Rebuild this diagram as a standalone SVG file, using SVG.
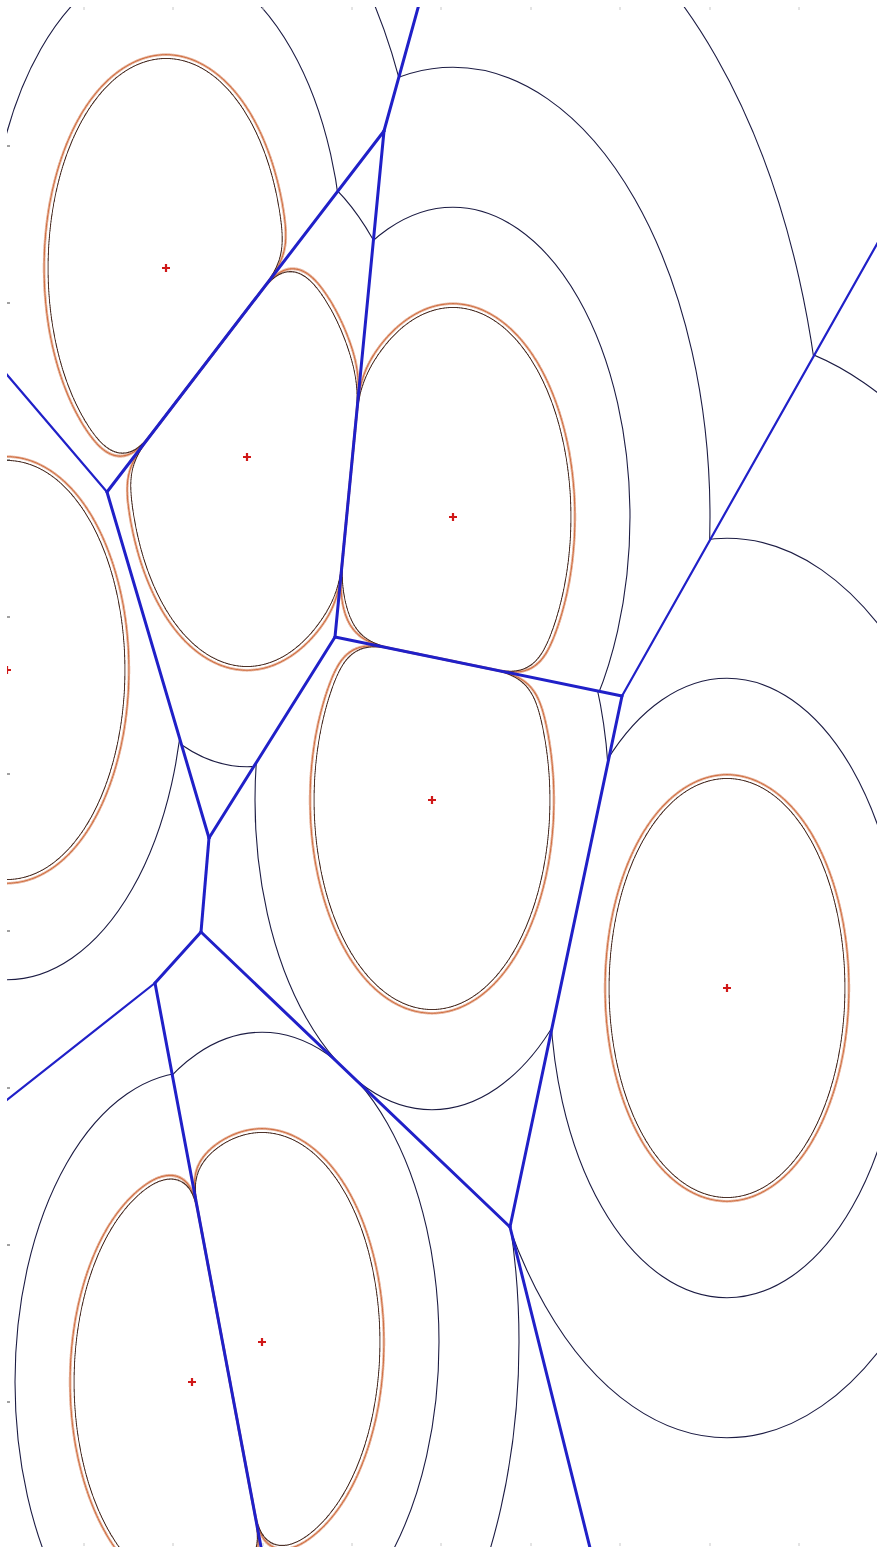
<svg xmlns="http://www.w3.org/2000/svg" width="877" height="1547" viewBox="0 0 877 1547">
<style>
.lv{fill:none;stroke:#1c1c44;stroke-width:1.1}
.fo{fill:#000;stroke:none}
.e{stroke:#2020c8;stroke-width:3;stroke-linecap:round;fill:none}
.et{stroke-width:2.2}
.x{stroke:#d01818;stroke-width:2.2;fill:none}
.tk{stroke:#444;stroke-width:1.2}
.tf{stroke:#c8c8c8;stroke-width:1}
</style>
<defs>
<filter id="ringO" x="-30%" y="-30%" width="160%" height="160%" color-interpolation-filters="sRGB">
<feGaussianBlur in="SourceAlpha" stdDeviation="18"/>
<feComponentTransfer result="r"><feFuncA type="table" tableValues="0 0 0 0 0 0 0 0 0 0 0 0 0 1 0 0 0 0 0 0 0 0 0 0 0 0 0"/></feComponentTransfer>
<feFlood flood-color="#cf6a3c"/>
<feComposite in2="r" operator="in"/>
</filter>
<filter id="ringD" x="-30%" y="-30%" width="160%" height="160%" color-interpolation-filters="sRGB">
<feGaussianBlur in="SourceAlpha" stdDeviation="18"/>
<feComponentTransfer result="r"><feFuncA type="table" tableValues="0 0 0 0 0 0 0 0 0 0 0 0 0 0 0 0 0 0 0 0 0 0 0 0 1 0 0 0 0 0 0 0 0 0 0 0 0 0 0 0 0 0 0 0 0 0 0 0 0"/></feComponentTransfer>
<feFlood flood-color="#3a1c12"/>
<feComposite in2="r" operator="in"/>
</filter>
<clipPath id="view"><rect x="7" y="7" width="870" height="1540"/></clipPath>
<clipPath id="cA"><polygon points="-50,-50 434,-50 384,131 107,492 -50,308"/></clipPath>
<clipPath id="cB"><polygon points="384,131 335,637 209,838 107,492"/></clipPath>
<clipPath id="cC"><polygon points="434,-50 930,-50 930,150 622,696 335,637 384,131"/></clipPath>
<clipPath id="cD"><polygon points="335,637 622,696 510,1227 201,932 209,838"/></clipPath>
<clipPath id="cF"><polygon points="930,150 930,1600 603,1600 510,1227 622,696"/></clipPath>
<clipPath id="cG"><polygon points="-50,308 107,492 209,838 201,932 155,983 -50,1145"/></clipPath>
<clipPath id="cH"><polygon points="201,932 510,1227 603,1600 271,1600 155,983"/></clipPath>
<clipPath id="cI"><polygon points="-50,1145 155,983 271,1600 -50,1600"/></clipPath>
</defs>
<rect width="877" height="1547" fill="#ffffff"/>
<g clip-path="url(#view)">
<g id="site-A">
<g clip-path="url(#cA)">
<ellipse class="lv" cx="166" cy="268" rx="177" ry="309.75"/>
<ellipse class="lv" cx="166" cy="268" rx="257" ry="449.75"/>
<ellipse class="lv" cx="166" cy="268" rx="372" ry="651"/>
</g>
<g filter="url(#ringO)"><ellipse class="fo" clip-path="url(#cA)" cx="166" cy="268" rx="122.4" ry="215.5"/></g>
<g filter="url(#ringD)"><ellipse class="fo" clip-path="url(#cA)" cx="166" cy="268" rx="118.4" ry="211.8"/></g>
<path class="x" d="M162 268H170M166 264V272"/>
</g>
<g id="site-B">
<g clip-path="url(#cB)">
<ellipse class="lv" cx="247" cy="457" rx="177" ry="309.75"/>
<ellipse class="lv" cx="247" cy="457" rx="257" ry="449.75"/>
</g>
<g filter="url(#ringO)"><ellipse class="fo" clip-path="url(#cB)" cx="247" cy="457" rx="122.4" ry="215.5"/></g>
<g filter="url(#ringD)"><ellipse class="fo" clip-path="url(#cB)" cx="247" cy="457" rx="118.4" ry="211.8"/></g>
<path class="x" d="M243 457H251M247 453V461"/>
</g>
<g id="site-C">
<g clip-path="url(#cC)">
<ellipse class="lv" cx="453" cy="517" rx="177" ry="309.75"/>
<ellipse class="lv" cx="453" cy="517" rx="257" ry="449.75"/>
<ellipse class="lv" cx="453" cy="517" rx="372" ry="651"/>
</g>
<g filter="url(#ringO)"><ellipse class="fo" clip-path="url(#cC)" cx="453" cy="517" rx="122.4" ry="215.5"/></g>
<g filter="url(#ringD)"><ellipse class="fo" clip-path="url(#cC)" cx="453" cy="517" rx="118.4" ry="211.8"/></g>
<path class="x" d="M449 517H457M453 513V521"/>
</g>
<g id="site-D">
<g clip-path="url(#cD)">
<ellipse class="lv" cx="432" cy="800" rx="177" ry="309.75"/>
<ellipse class="lv" cx="432" cy="800" rx="257" ry="449.75"/>
</g>
<g filter="url(#ringO)"><ellipse class="fo" clip-path="url(#cD)" cx="432" cy="800" rx="122.4" ry="215.5"/></g>
<g filter="url(#ringD)"><ellipse class="fo" clip-path="url(#cD)" cx="432" cy="800" rx="118.4" ry="211.8"/></g>
<path class="x" d="M428 800H436M432 796V804"/>
</g>
<g id="site-F">
<g clip-path="url(#cF)">
<ellipse class="lv" cx="727" cy="988" rx="177" ry="309.75"/>
<ellipse class="lv" cx="727" cy="988" rx="257" ry="449.75"/>
<ellipse class="lv" cx="727" cy="988" rx="372" ry="651"/>
</g>
<g filter="url(#ringO)"><ellipse class="fo" clip-path="url(#cF)" cx="727" cy="988" rx="122.4" ry="215.5"/></g>
<g filter="url(#ringD)"><ellipse class="fo" clip-path="url(#cF)" cx="727" cy="988" rx="118.4" ry="211.8"/></g>
<path class="x" d="M723 988H731M727 984V992"/>
</g>
<g id="site-G">
<g clip-path="url(#cG)">
<ellipse class="lv" cx="7" cy="670" rx="177" ry="309.75"/>
<ellipse class="lv" cx="7" cy="670" rx="257" ry="449.75"/>
</g>
<g filter="url(#ringO)"><ellipse class="fo" clip-path="url(#cG)" cx="7" cy="670" rx="122.4" ry="215.5"/></g>
<g filter="url(#ringD)"><ellipse class="fo" clip-path="url(#cG)" cx="7" cy="670" rx="118.4" ry="211.8"/></g>
<path class="x" d="M3 670H11M7 666V674"/>
</g>
<g id="site-H">
<g clip-path="url(#cH)">
<ellipse class="lv" cx="262" cy="1342" rx="177" ry="309.75"/>
<ellipse class="lv" cx="262" cy="1342" rx="257" ry="449.75"/>
</g>
<g filter="url(#ringO)"><ellipse class="fo" clip-path="url(#cH)" cx="262" cy="1342" rx="122.4" ry="215.5"/></g>
<g filter="url(#ringD)"><ellipse class="fo" clip-path="url(#cH)" cx="262" cy="1342" rx="118.4" ry="211.8"/></g>
<path class="x" d="M258 1342H266M262 1338V1346"/>
</g>
<g id="site-I">
<g clip-path="url(#cI)">
<ellipse class="lv" cx="192" cy="1382" rx="177" ry="309.75"/>
<ellipse class="lv" cx="192" cy="1382" rx="257" ry="449.75"/>
</g>
<g filter="url(#ringO)"><ellipse class="fo" clip-path="url(#cI)" cx="192" cy="1382" rx="122.4" ry="215.5"/></g>
<g filter="url(#ringD)"><ellipse class="fo" clip-path="url(#cI)" cx="192" cy="1382" rx="118.4" ry="211.8"/></g>
<path class="x" d="M188 1382H196M192 1378V1386"/>
</g>
<g id="edges">
<line class="e" x1="384" y1="131" x2="434" y2="-50"/>
<line class="e" x1="384" y1="131" x2="107" y2="492"/>
<line class="e" x1="384" y1="131" x2="335" y2="637"/>
<line class="e et" x1="107" y1="492" x2="-50" y2="308"/>
<line class="e" x1="107" y1="492" x2="209" y2="838"/>
<line class="e" x1="209" y1="838" x2="335" y2="637"/>
<line class="e" x1="335" y1="637" x2="622" y2="696"/>
<line class="e" x1="622" y1="696" x2="510" y2="1227"/>
<line class="e et" x1="622" y1="696" x2="930" y2="150"/>
<line class="e" x1="209" y1="838" x2="201" y2="932"/>
<line class="e" x1="201" y1="932" x2="155" y2="983"/>
<line class="e et" x1="155" y1="983" x2="-50" y2="1145"/>
<line class="e" x1="155" y1="983" x2="271" y2="1600"/>
<line class="e" x1="201" y1="932" x2="510" y2="1227"/>
<line class="e" x1="510" y1="1227" x2="603" y2="1600"/>
</g>
<g id="ticks">
<path class="tk" d="M7 146H10M7 303H10M7 460H10M7 617H10M7 774H10M7 931H10M7 1088H10M7 1245H10M7 1402H10"/>
<path class="tf" d="M84 7V10M173 7V10M263 7V10M352 7V10M441 7V10M531 7V10M620 7V10M710 7V10M799 7V10M84 1543V1546M173 1543V1546M263 1543V1546M352 1543V1546M441 1543V1546M531 1543V1546M620 1543V1546M710 1543V1546M799 1543V1546"/>
</g>
</g>
</svg>
